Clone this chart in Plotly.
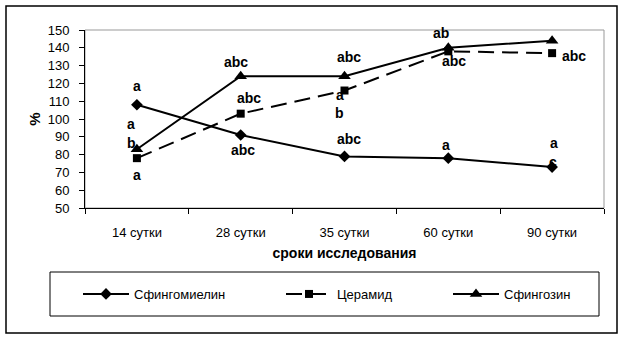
import plotly.graph_objects as go

categories = ["14 сутки", "28 сутки", "35 сутки", "60 сутки", "90 сутки"]
sphingomyelin = [108, 91, 79, 78, 73]
ceramide = [78, 103, 116, 138, 137]
sphingosine = [83, 124, 124, 140, 144]
y_ticks = list(range(50, 151, 10))

# significance letters: (category, y value, text, pixel shift x)
labels_cat = ["14 сутки", "14 сутки", "14 сутки", "14 сутки",
              "28 сутки", "28 сутки", "28 сутки",
              "35 сутки", "35 сутки", "35 сутки", "35 сутки",
              "60 сутки", "60 сутки", "60 сутки",
              "90 сутки", "90 сутки", "90 сутки", "90 сутки"]
labels_y = [118.5, 97.2, 86.5, 68.5,
            132.0, 111.8, 82.6,
            134.8, 113.5, 103.4, 88.8,
            148.3, 132.6, 85.4,
            151.7, 135.4, 86.5, 75.8]
labels_text = ["a", "a", "b", "a",
               "abc", "abc", "abc",
               "abc", "a", "b", "abc",
               "ab", "abc", "a",
               "abc", "abc", "a", "c"]
labels_dx = [0, -6, -5, 0,
             -5, 8, 2,
             4, -5, -5, 4,
             -7, 6, -2,
             -3, 22, 2, 1]

FONT = "Arial, Liberation Sans, sans-serif"

W, H = 625, 339
L, R, T, B = 85, 604, 30, 208
pw, ph = R - L, B - T


def px(xp):
    return (xp - L) / pw


def py(yp):
    return (B - yp) / ph


fig = go.Figure()
fig.add_trace(go.Scatter(x=categories, y=sphingomyelin, name="Сфингомиелин",
                         mode="lines+markers", legend="legend",
                         line=dict(color="black", width=2),
                         marker=dict(symbol="diamond", size=9, color="black")))
fig.add_trace(go.Scatter(x=categories, y=ceramide, name="Церамид",
                         mode="lines+markers", legend="legend2",
                         line=dict(color="black", width=2, dash="16px,8px"),
                         marker=dict(symbol="square", size=8, color="black")))
fig.add_trace(go.Scatter(x=categories, y=sphingosine, name="Сфингозин",
                         mode="lines+markers", legend="legend3",
                         line=dict(color="black", width=2),
                         marker=dict(symbol="triangle-up", size=11, color="black")))

for c, yv, t, dx in zip(labels_cat, labels_y, labels_text, labels_dx):
    fig.add_annotation(x=c, y=yv, text="<b>" + t + "</b>", xref="x", yref="y",
                       showarrow=False, xshift=dx,
                       font=dict(family=FONT, size=14, color="black"))

# outer chart border
fig.add_shape(type="rect", xref="paper", yref="paper",
              x0=px(6), x1=px(617), y0=py(333), y1=py(6),
              line=dict(color="black", width=1.5), layer="below")
# plot area border (gray)
fig.add_shape(type="rect", xref="paper", yref="paper",
              x0=0, x1=1, y0=0, y1=1,
              line=dict(color="#999999", width=1), layer="below")
# legend box
fig.add_shape(type="rect", xref="paper", yref="paper",
              x0=px(50), x1=px(599), y0=py(316), y1=py(272),
              line=dict(color="black", width=1), layer="below")


def legend_at(xpix):
    return dict(orientation="h", x=px(xpix), y=py(294), xanchor="left",
                yanchor="middle", itemwidth=46,
                font=dict(family=FONT, size=13, color="black"),
                bgcolor="rgba(0,0,0,0)", borderwidth=0)


fig.update_layout(
    width=W, height=H,
    margin=dict(l=L, r=W - R, t=T, b=H - B),
    paper_bgcolor="white", plot_bgcolor="white",
    font=dict(family=FONT, size=12, color="black"),
    showlegend=True,
    legend=legend_at(78),
    legend2=legend_at(281),
    legend3=legend_at(448),
    xaxis=dict(type="category", range=[-0.5, 4.5], showgrid=False, showline=True,
               linecolor="black", linewidth=1, ticks="outside",
               tickson="boundaries", ticklen=5, tickcolor="black",
               ticklabelstandoff=12, tickfont=dict(family=FONT, size=13),
               title=dict(text="<b>сроки исследования</b>", standoff=9,
                          font=dict(family=FONT, size=14, color="black")),
               zeroline=False),
    yaxis=dict(range=[50, 150], tickvals=y_ticks, showgrid=False, showline=True,
               linecolor="black", linewidth=1, ticks="outside", ticklen=5,
               tickcolor="black", ticklabelstandoff=7,
               tickfont=dict(family=FONT, size=13),
               title=dict(text="<b>%</b>", standoff=3,
                          font=dict(family=FONT, size=15, color="black")),
               zeroline=False),
)

fig.write_html("out.html")
